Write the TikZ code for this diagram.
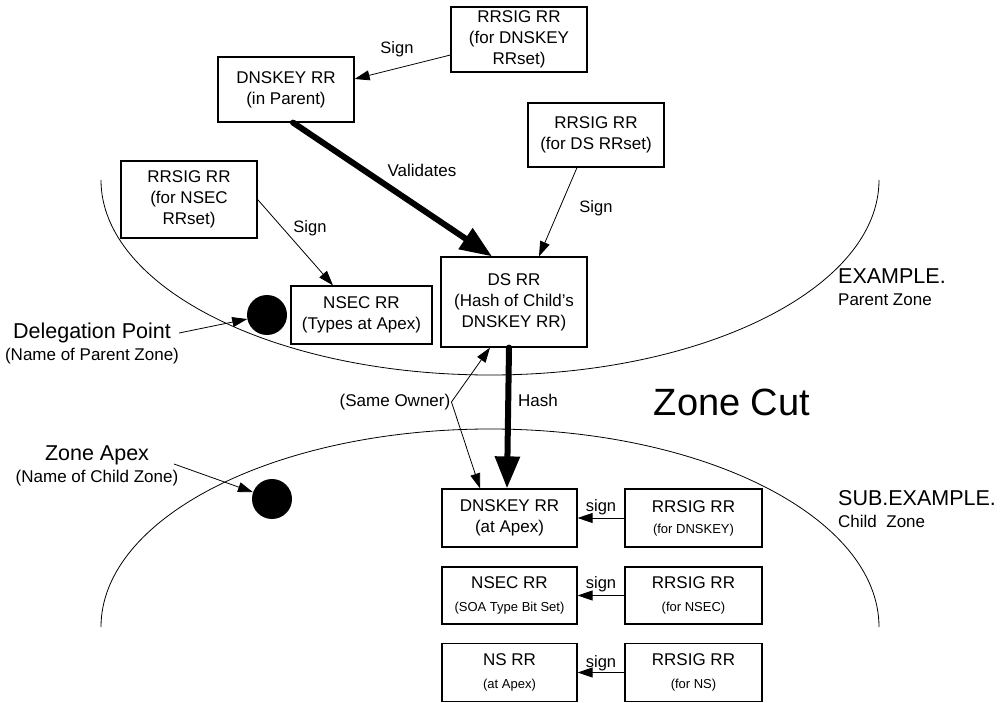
\documentclass[tikz,border=0pt]{standalone}
\usepackage{fontspec}
\setmainfont{Liberation Sans}
\usetikzlibrary{arrows.meta,positioning,calc}

\newcommand\rrnote[1]{{\fontsize{13}{16}\selectfont #1}}

\begin{document}
\begin{tikzpicture}[x=1pt,y=-1pt,
    rrbox/.style={draw, line width=1.2pt, align=center, inner sep=0pt,
                  font=\fontsize{17}{21}\selectfont},
    lbl/.style={font=\fontsize{17}{20}\selectfont, inner sep=0pt, align=center},
    signlbl/.style={font=\fontsize{16.5}{19}\selectfont, inner sep=0pt},
    bigtxt/.style={font=\fontsize{21.5}{24}\selectfont, inner sep=0pt},
    dot/.style={circle, fill=black, minimum size=40pt, inner sep=0pt},
    zone/.style={line width=0.8pt},
    signarr/.style={-{Triangle[length=15pt,width=10pt]}, line width=0.8pt},
    thickarr/.style={-{Triangle[length=32pt,width=24pt]}, line width=6pt, line cap=round}]
    \useasboundingbox (0,0) rectangle (1002,703);

    % Zone borders
    \draw[zone] (101,180) arc[start angle=180, end angle=360, x radius=389pt, y radius=195pt];
    \draw[zone] (101,627) arc[start angle=180, end angle=0, x radius=389pt, y radius=198pt];

    % Parent zone records
    \node[rrbox, minimum width=136pt, minimum height=65pt] (pkey) at (286,89.5) {DNSKEY RR\\(in Parent)};
    \node[rrbox, minimum width=136pt, minimum height=65pt] (sigkey) at (519,39.5) {RRSIG RR\\(for DNSKEY\\RRset)};
    \node[rrbox, minimum width=136pt, minimum height=64pt] (sigds) at (596,135) {RRSIG RR\\(for DS RRset)};
    \node[rrbox, minimum width=136pt, minimum height=77pt] (signsec) at (189,199.5) {RRSIG RR\\(for NSEC\\RRset)};
    \node[rrbox, minimum width=141pt, minimum height=58pt] (nsec) at (361.5,315) {NSEC RR\\(Types at Apex)};
    \node[rrbox, minimum width=146pt, minimum height=90pt] (ds) at (514,302) {DS RR\\(Hash of Child’s\\DNSKEY RR)};

    % Child zone records
    \node[rrbox, minimum width=135pt, minimum height=58pt] (apexkey) at (509.5,518) {DNSKEY RR\\(at Apex)};
    \node[rrbox, minimum width=135pt, minimum height=57pt] (apexnsec) at (509.5,595.5) {NSEC RR\\[2pt]\rrnote{(SOA Type Bit Set)}};
    \node[rrbox, minimum width=135pt, minimum height=58pt] (apexns) at (509.5,672.5) {NS RR\\[2pt]\rrnote{(at Apex)}};
    \node[rrbox, minimum width=137pt, minimum height=58pt] (sigapexkey) at (693.5,518) {RRSIG RR\\\rrnote{(for DNSKEY)}};
    \node[rrbox, minimum width=137pt, minimum height=57pt] (sigapexnsec) at (693.5,595.5) {RRSIG RR\\[2pt]\rrnote{(for NSEC)}};
    \node[rrbox, minimum width=137pt, minimum height=58pt] (sigapexns) at (693.5,672.5) {RRSIG RR\\[2pt]\rrnote{(for NS)}};

    % Names and dots
    \node[dot] (pdot) at (267,315) {};
    \node[dot] (cdot) at (272,499) {};
    \node[bigtxt] (deleg) at (92,333) {Delegation Point};
    \node[lbl] (delegsub) at (92,356) {(Name of Parent Zone)};
    \node[bigtxt] (apex) at (97,455) {Zone Apex};
    \node[lbl] (apexsub) at (97,478) {(Name of Child Zone)};
    \coordinate (apexfrom) at (174,464);
    \draw[signarr] ([xshift=8pt]deleg.east) -- (pdot);
    \draw[signarr] (apexfrom) -- (cdot);

    \node[bigtxt, anchor=west] (pzone) at (838,276) {EXAMPLE.};
    \node[lbl, anchor=west] (pzonesub) at (838,300) {Parent Zone};
    \node[bigtxt, anchor=west] (czone) at (838,498) {SUB.EXAMPLE.};
    \node[lbl, anchor=west] (czonesub) at (838,521) {Child\ \ Zone};
    \node[font=\fontsize{38}{40}\selectfont, inner sep=0pt] (cut) at (732,402) {Zone Cut};

    % Arrows in parent
    \draw[signarr] ([yshift=-15.5pt]sigkey.west) -- ([yshift=10.5pt]pkey.east);
    \draw[signarr] ([xshift=-19pt]sigds.south) -- ([xshift=25pt]ds.north);
    \draw[signarr] (signsec.east) -- ([xshift=-28.5pt]nsec.north);
    \draw[thickarr] ([xshift=7pt]pkey.south) -- ([xshift=-22pt]ds.north);
    \node[signlbl] (signa) at (397,49) {Sign};
    \node[signlbl] (signb) at (596,208) {Sign};
    \node[signlbl] (signc) at (310,228) {Sign};
    \node[lbl] (valid) at (422,170) {Validates};

    % Across the cut
    \draw[thickarr] ([xshift=-5pt]ds.south) -- ([xshift=-2.5pt]apexkey.north);
    \node[lbl, anchor=west] (hash) at (518,400) {Hash};
    \node[lbl, inner sep=1pt] (owner) at (395,402) {(Same Owner)};
    \draw[signarr] (owner.east) -- ([xshift=-24pt]ds.south);
    \draw[signarr] (owner.east) -- ([xshift=-29.5pt]apexkey.north);

    % Signatures in child
    \draw[signarr] (sigapexkey.west) -- (apexkey.east) node[midway, above=3pt, signlbl] {sign};
    \draw[signarr] (sigapexnsec.west) -- (apexnsec.east) node[midway, above=3pt, signlbl] {sign};
    \draw[signarr] (sigapexns.west) -- (apexns.east) node[midway, above=1pt, signlbl] {sign};
\end{tikzpicture}
\end{document}
